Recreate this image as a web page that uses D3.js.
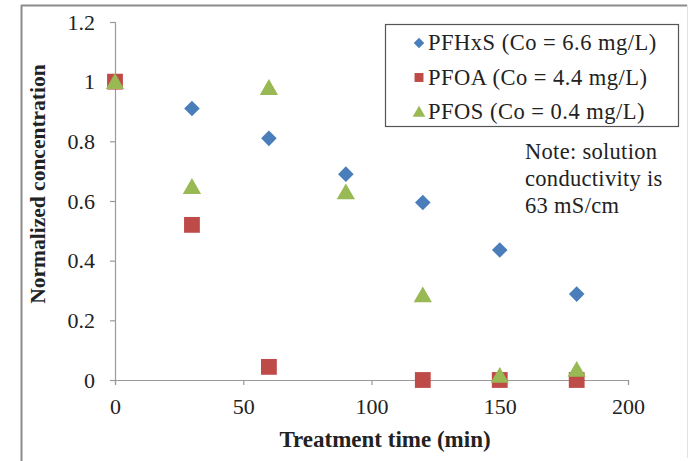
<!DOCTYPE html>
<html lang="en">
<head>
<meta charset="utf-8" />
<title>Normalized concentration vs treatment time</title>
<script src="https://d3js.org/d3.v7.min.js"></script>
<style>
    body { margin: 0; padding: 0; background: #fff; }
    svg text { font-family: "Liberation Serif", "Times New Roman", serif; fill: #222; }
</style>
</head>
<body>
<svg id="chart"></svg>
<script>
    // data
    var times = [0, 30, 60, 90, 120, 150, 180];
    var pfhxs = [1.0, 0.91, 0.81, 0.69, 0.595, 0.436, 0.288];
    var pfoaTimes = [0, 30, 60, 120, 150, 180];
    var pfoa = [1.0, 0.52, 0.044, 0.0, 0.0, 0.0];
    var pfos = [1.0, 0.648, 0.98, 0.63, 0.285, 0.015, 0.035];
    var xTicks = [0, 50, 100, 150, 200];
    var yTicks = [0, 0.2, 0.4, 0.6, 0.8, 1, 1.2];
    var legendLabels = ["PFHxS (Co = 6.6 mg/L)", "PFOA (Co = 4.4 mg/L)", "PFOS (Co = 0.4 mg/L)"];
    var noteLines = ["Note: solution", "conductivity is", "63 mS/cm"];

    var w = 690, h = 461;
    var svg = d3.select("#chart").attr("width", w).attr("height", h);

    // frame of the picture (left/top darker, right faint)
    svg.append("line").attr("x1", 21.5).attr("x2", 21.5).attr("y1", 5).attr("y2", h)
        .attr("stroke", "#8c8c8c").attr("stroke-width", 2);
    svg.append("line").attr("x1", 21).attr("x2", 687).attr("y1", 5.5).attr("y2", 5.5)
        .attr("stroke", "#8c8c8c").attr("stroke-width", 2);
    svg.append("line").attr("x1", 687.5).attr("x2", 687.5).attr("y1", 5).attr("y2", 458)
        .attr("stroke", "#e2e2e2").attr("stroke-width", 1);

    var xScale = d3.scaleLinear().domain([0, 200]).range([115, 628]);
    var yScale = d3.scaleLinear().domain([0, 1.2]).range([380, 22]);

    // axes
    var xAxis = svg.append("g")
        .attr("transform", "translate(0," + yScale(0) + ")")
        .call(d3.axisBottom(xScale).tickValues(xTicks).tickSize(5).tickPadding(13).tickFormat(d3.format("d")));
    var yAxis = svg.append("g")
        .attr("transform", "translate(" + xScale(0) + ",0)")
        .call(d3.axisLeft(yScale).tickValues(yTicks).tickSize(5).tickPadding(15).tickFormat(function(d) { return String(d); }));

    [xAxis, yAxis].forEach(function(a) {
        a.select(".domain").attr("stroke", "#9a9a9a").attr("stroke-width", 1.2);
        a.selectAll(".tick line").attr("stroke", "#9a9a9a").attr("stroke-width", 1.2);
        a.selectAll(".tick text")
            .attr("font-family", "Liberation Serif, serif")
            .attr("font-size", 22).attr("fill", "#333");
    });

    // axis titles
    svg.append("text")
        .attr("x", 385).attr("y", 447)
        .attr("text-anchor", "middle")
        .attr("font-size", 23).attr("font-weight", "bold")
        .text("Treatment time (min)");
    svg.append("text")
        .attr("transform", "translate(45,184) rotate(-90)")
        .attr("text-anchor", "middle")
        .attr("font-size", 21.5).attr("font-weight", "bold")
        .text("Normalized concentration");

    var colors = ["#4a7ebb", "#be4b48", "#98b954"];
    var shapes = [d3.symbolDiamond2, d3.symbolSquare, d3.symbolTriangle];
    var sizes = [155, 250, 145];

    var series = [
        { t: times, v: pfhxs },
        { t: pfoaTimes, v: pfoa },
        { t: times, v: pfos }
    ];

    series.forEach(function(s, k) {
        var sym = d3.symbol().type(shapes[k]).size(sizes[k]);
        svg.append("g").selectAll("path")
            .data(s.v)
            .enter().append("path")
            .attr("d", sym)
            .attr("transform", function(d, i) {
                var dy = k === 2 ? 2 : 0;
                return "translate(" + xScale(s.t[i]) + "," + (yScale(d) + dy) + ")";
            })
            .attr("fill", colors[k]);
    });

    // legend
    var lg = svg.append("g");
    lg.append("rect")
        .attr("x", 385.5).attr("y", 24.5)
        .attr("width", 293).attr("height", 102)
        .attr("fill", "#fff").attr("stroke", "#555").attr("stroke-width", 1.2);
    legendLabels.forEach(function(lab, k) {
        var y = 43 + k * 34.5;
        var sym = d3.symbol().type(shapes[k]).size([70, 80, 70][k]);
        lg.append("path")
            .attr("d", sym)
            .attr("transform", "translate(419," + (y + (k === 2 ? 1 : 0)) + ")")
            .attr("fill", colors[k]);
        lg.append("text")
            .attr("x", 428).attr("y", y + 7)
            .attr("font-size", 22.5)
            .attr("letter-spacing", 0.5)
            .text(lab);
    });

    // note
    svg.append("g").selectAll("text")
        .data(noteLines)
        .enter().append("text")
        .attr("x", 525)
        .attr("y", function(d, i) { return 159 + i * 27; })
        .attr("font-size", 22.5)
        .attr("letter-spacing", 0.3)
        .text(function(d) { return d; });
</script>
</body>
</html>
